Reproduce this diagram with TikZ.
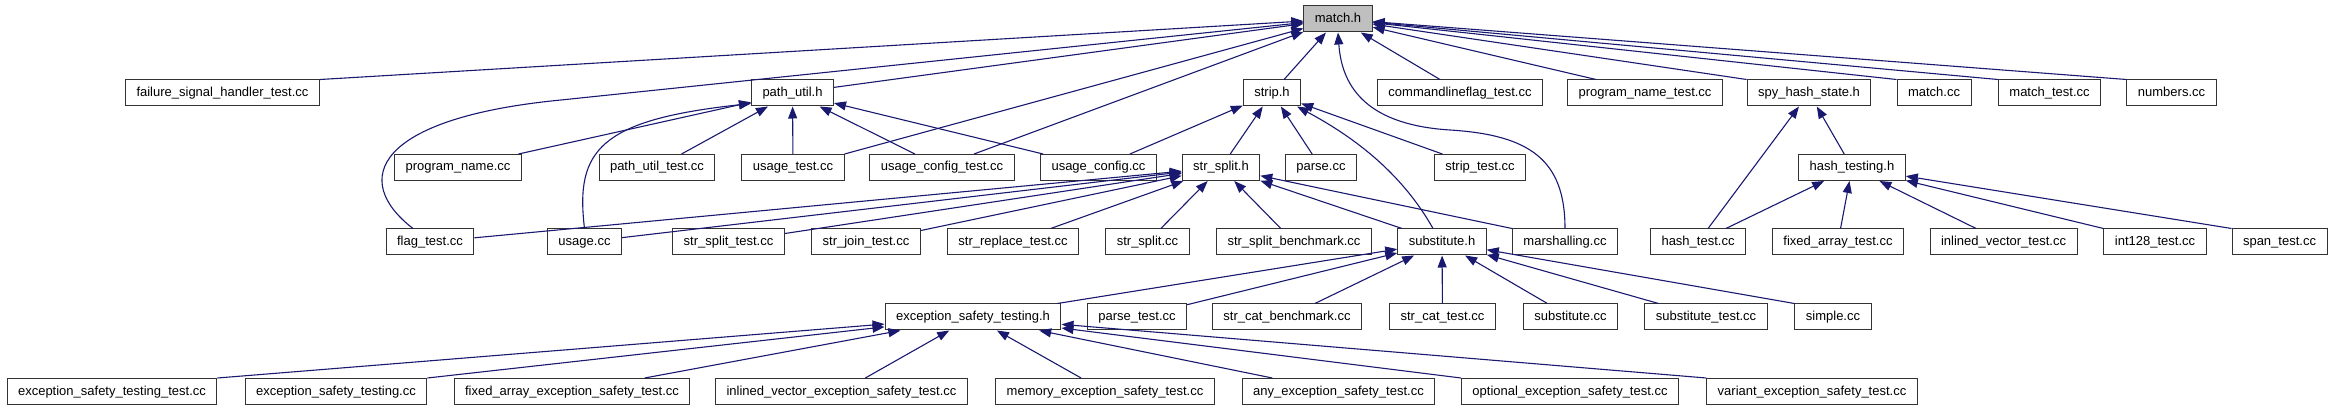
\documentclass[tikz,border=0pt]{standalone}
\usepackage{fontspec}
\setmainfont{Liberation Sans}
\usetikzlibrary{arrows.meta}
\definecolor{edgeblue}{RGB}{25,25,112}
\definecolor{mainfill}{RGB}{191,191,191}
\begin{document}
\begin{tikzpicture}[x=1pt,y=-1pt,
    srcfile/.style ={rectangle, draw=black!80, line width=1pt, fill=white, minimum height=26pt,
      inner xsep=11pt, inner ysep=0pt, text height=10pt, text depth=3pt, font=\fontsize{13}{15}\selectfont},
    mainfile/.style ={srcfile, fill=mainfill},
    incl/.style ={draw=edgeblue, line width=1.1pt, -{Triangle[length=12pt,width=9pt]}}]
   \useasboundingbox (0,0) rectangle (2333,411);
   % top
   \node[mainfile] (match) at (1338,19) {match.h};
   % row 2
   \node[srcfile] (fsh) at (222.5,93) {failure\_signal\_handler\_test.cc};
   \node[srcfile] (pathutil) at (792.5,93) {path\_util.h};
   \node[srcfile] (strip) at (1272,93) {strip.h};
   \node[srcfile] (cmdflag) at (1460,93) {commandlineflag\_test.cc};
   \node[srcfile] (prognametest) at (1645,93) {program\_name\_test.cc};
   \node[srcfile] (spyhash) at (1809,93) {spy\_hash\_state.h};
   \node[srcfile] (matchcc) at (1934,93) {match.cc};
   \node[srcfile] (matchtest) at (2049.5,93) {match\_test.cc};
   \node[srcfile] (numbers) at (2171.5,93) {numbers.cc};
   % row 3
   \node[srcfile] (progname) at (458,167.5) {program\_name.cc};
   \node[srcfile] (pathutiltest) at (657,167.5) {path\_util\_test.cc};
   \node[srcfile] (usagetest) at (793,167.5) {usage\_test.cc};
   \node[srcfile] (usageconfigtest) at (942,167.5) {usage\_config\_test.cc};
   \node[srcfile] (usageconfig) at (1098.5,167.5) {usage\_config.cc};
   \node[srcfile] (strsplith) at (1221,167.5) {str\_split.h};
   \node[srcfile] (parse) at (1321,167.5) {parse.cc};
   \node[srcfile] (striptest) at (1480,167.5) {strip\_test.cc};
   \node[srcfile] (hashtesting) at (1852,167.5) {hash\_testing.h};
   % row 4
   \node[srcfile] (flagtest) at (430,242) {flag\_test.cc};
   \node[srcfile] (usage) at (584.5,242) {usage.cc};
   \node[srcfile] (strsplittest) at (728.5,242) {str\_split\_test.cc};
   \node[srcfile] (strjointest) at (866,242) {str\_join\_test.cc};
   \node[srcfile] (strreplacetest) at (1013,242) {str\_replace\_test.cc};
   \node[srcfile] (strsplitcc) at (1147.5,242) {str\_split.cc};
   \node[srcfile] (strsplitbench) at (1294,242) {str\_split\_benchmark.cc};
   \node[srcfile] (substituteh) at (1442,242) {substitute.h};
   \node[srcfile] (marshalling) at (1565,242) {marshalling.cc};
   \node[srcfile] (hashtest) at (1698,242) {hash\_test.cc};
   \node[srcfile] (fixedarraytest) at (1838,242) {fixed\_array\_test.cc};
   \node[srcfile] (inlinedvectortest) at (2003.5,242) {inlined\_vector\_test.cc};
   \node[srcfile] (int128test) at (2155,242) {int128\_test.cc};
   \node[srcfile] (spantest) at (2279.5,242) {span\_test.cc};
   % row 5
   \node[srcfile] (esth) at (973,317) {exception\_safety\_testing.h};
   \node[srcfile] (parsetest) at (1137,317) {parse\_test.cc};
   \node[srcfile] (strcatbench) at (1287,317) {str\_cat\_benchmark.cc};
   \node[srcfile] (strcattest) at (1442.5,317) {str\_cat\_test.cc};
   \node[srcfile] (substitutecc) at (1570.5,317) {substitute.cc};
   \node[srcfile] (substitutetest) at (1706,317) {substitute\_test.cc};
   \node[srcfile] (simple) at (1833,317) {simple.cc};
   % row 6
   \node[srcfile] (estt) at (112,391.5) {exception\_safety\_testing\_test.cc};
   \node[srcfile] (estcc) at (336,391.5) {exception\_safety\_testing.cc};
   \node[srcfile] (fixedest) at (572,391.5) {fixed\_array\_exception\_safety\_test.cc};
   \node[srcfile] (inlinedest) at (841.5,391.5) {inlined\_vector\_exception\_safety\_test.cc};
   \node[srcfile] (memoryest) at (1105,391.5) {memory\_exception\_safety\_test.cc};
   \node[srcfile] (anyest) at (1338.5,391.5) {any\_exception\_safety\_test.cc};
   \node[srcfile] (optionalest) at (1570,391.5) {optional\_exception\_safety\_test.cc};
   \node[srcfile] (variantest) at (1812,391.5) {variant\_exception\_safety\_test.cc};
   % includes of match.h
   \draw[incl] (fsh.north east) -- (match);
   \draw[incl] ([xshift=-17pt]flagtest.north) .. controls (350,180) and (375,118) .. (561,100) -- (match);
   \draw[incl] (pathutil) -- (match);
   \draw[incl] (usagetest.north east) -- (match);
   \draw[incl] ([xshift=32pt]usageconfigtest.north) -- (match);
   \draw[incl] (strip) -- (match);
   \draw[incl] (marshalling.north) .. controls (1565,160) and (1530,135) .. (1450,130)
      .. controls (1370,125) and (1342,90) .. (match.south);
   \draw[incl] ([xshift=-20pt]cmdflag.north) -- (match);
   \draw[incl] ([xshift=-49pt]prognametest.north) -- (match);
   \draw[incl] (spyhash.north west) -- (match);
   \draw[incl] (matchcc.north west) -- (match);
   \draw[incl] (matchtest.north west) -- (match);
   \draw[incl] (numbers.north west) -- (match);
   % path_util.h
   \draw[incl] (progname) -- (pathutil);
   \draw[incl] (usage.north) .. controls (575,150) and (600,120) .. ([yshift=3pt]pathutil.south west);
   \draw[incl] (pathutiltest) -- (pathutil);
   \draw[incl] (usagetest) -- (pathutil);
   \draw[incl] (usageconfigtest) -- (pathutil);
   \draw[incl] (usageconfig) -- (pathutil);
   % strip.h
   \draw[incl] (usageconfig) -- (strip);
   \draw[incl] (strsplith) -- (strip);
   \draw[incl] (parse) -- (strip);
   \draw[incl] (striptest) -- (strip);
   \draw[incl] ([xshift=-9pt]substituteh.north) .. controls (1400,170) and (1350,135) .. (strip);
   % str_split.h
   \draw[incl] (flagtest) -- (strsplith);
   \draw[incl] (usage) -- (strsplith);
   \draw[incl] (strsplittest) -- (strsplith);
   \draw[incl] (strjointest) -- (strsplith);
   \draw[incl] (strreplacetest) -- (strsplith);
   \draw[incl] (strsplitcc) -- (strsplith);
   \draw[incl] (strsplitbench) -- (strsplith);
   \draw[incl] (substituteh) -- (strsplith);
   \draw[incl] (marshalling.north west) -- (strsplith);
   % substitute.h
   \draw[incl] (esth) -- (substituteh);
   \draw[incl] (parsetest) -- (substituteh);
   \draw[incl] (strcatbench) -- (substituteh);
   \draw[incl] (strcattest) -- (substituteh);
   \draw[incl] (substitutecc) -- (substituteh);
   \draw[incl] (substitutetest) -- (substituteh);
   \draw[incl] (simple.north west) -- (substituteh);
   % exception_safety_testing.h
   \draw[incl] (estt.north east) -- (esth);
   \draw[incl] (estcc.north east) -- (esth);
   \draw[incl] (fixedest) -- (esth);
   \draw[incl] (inlinedest) -- (esth);
   \draw[incl] (memoryest) -- (esth);
   \draw[incl] (anyest) -- (esth);
   \draw[incl] (optionalest.north west) -- (esth);
   \draw[incl] (variantest.north west) -- (esth);
   % hash headers
   \draw[incl] (hashtest) -- (spyhash);
   \draw[incl] (hashtesting) -- (spyhash);
   \draw[incl] (hashtest) -- (hashtesting);
   \draw[incl] (fixedarraytest) -- (hashtesting);
   \draw[incl] (inlinedvectortest) -- (hashtesting);
   \draw[incl] (int128test.north west) -- (hashtesting);
   \draw[incl] (spantest.north west) -- (hashtesting);
\end{tikzpicture}
\end{document}
